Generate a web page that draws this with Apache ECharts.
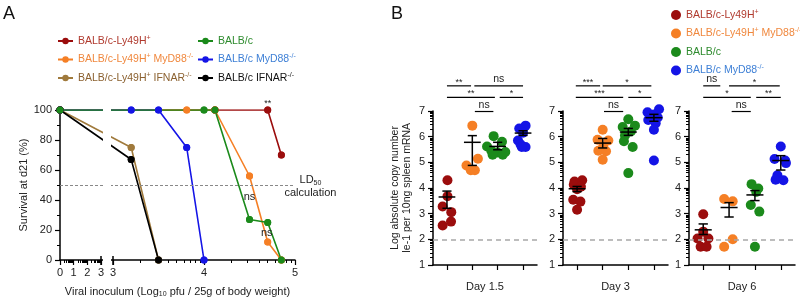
<!DOCTYPE html>
<html>
<head>
<meta charset="utf-8">
<script src="https://cdn.jsdelivr.net/npm/echarts@6/dist/echarts.min.js"></script>
<style>
  html, body { margin: 0; padding: 0; background: #fff; }
  #chart { width: 800px; height: 303px; }
</style>
</head>
<body>
<div id="chart"></div>
<script>
// groups (same order everywhere)
const groupNames = ['BALB/c-Ly49H+', 'BALB/c-Ly49H+ MyD88-/-', 'BALB/c-Ly49H+ IFNAR-/-', 'BALB/c', 'BALB/c MyD88-/-', 'BALB/c IFNAR-/-']
const groupColors = ['#9b0d0d', '#f57f25', '#a07a3c', '#1b8a1b', '#1414e6', '#000000']
const groupTextColors = ['#b03a2e', '#f0883e', '#8b6130', '#2e8b2e', '#3f80d6', '#111111']

// ---- panel A : survival vs dose (log10 pfu) ----
const ly49hDose = [0, 4.12, 4.7, 4.85]
const ly49hSurv = [100, 100, 100, 70]
const ly49hMyd88Dose = [0, 3.81, 4.12, 4.5, 4.7, 4.85]
const ly49hMyd88Surv = [100, 100, 100, 56, 12, 0]
const ly49hIfnarDose = [0, 3.2, 3.5]
const ly49hIfnarSurv = [100, 75, 0]
const balbDose = [0, 4.0, 4.12, 4.5, 4.7, 4.85]
const balbSurv = [100, 100, 100, 27, 25, 0]
const balbMyd88Dose = [0, 3.2, 3.5, 3.81, 4.0]
const balbMyd88Surv = [100, 100, 100, 75, 0]
const balbIfnarDose = [0, 3.2, 3.5]
const balbIfnarSurv = [100, 67, 0]
const ld50 = 50
// [text, dose, survival]
const annotA = [['**', 4.7, 104], ['ns', 4.5, 42], ['ns', 4.69, 18], ['LD{sub|50}\ncalculation', 5.17, 49]]

// ---- panel B : Ie-1 copy number ----
const days = ['Day 1.5', 'Day 3', 'Day 6']
const bGroups = [0, 1, 3, 4]

const d15Ly49h = [4.30, 3.68, 3.28, 3.06, 2.69, 2.54]
const d15Ly49hJit = [0.02, 0.02, -0.17, 0.17, 0.16, -0.17]
const d15Ly49hMyd88 = [6.43, 5.14, 4.88, 4.69, 4.69]
const d15Ly49hMyd88Jit = [0, 0.22, -0.23, -0.06, 0.1]
const d15Balb = [6.02, 5.80, 5.62, 5.45, 5.38, 5.30, 5.30, 5.40]
const d15BalbJit = [-0.16, 0.17, -0.42, -0.25, 0, -0.2, 0.2, 0.3]
const d15BalbMyd88 = [6.43, 6.32, 6.15, 5.85, 5.70, 5.60, 5.60]
const d15BalbMyd88Jit = [0.1, -0.15, 0, -0.2, -0.1, 0.1, -0.05]

const d3Ly49h = [4.30, 4.25, 4.13, 4.05, 3.95, 3.54, 3.47, 3.15]
const d3Ly49hJit = [0.2, -0.1, -0.13, 0.15, 0, -0.15, 0.13, 0]
const d3Ly49hMyd88 = [6.27, 5.88, 5.85, 5.62, 5.45, 5.43, 5.10]
const d3Ly49hMyd88Jit = [0, -0.2, 0.22, 0.02, -0.17, 0.13, 0]
const d3Balb = [6.68, 6.43, 6.38, 6.20, 6.05, 5.82, 5.60, 4.58]
const d3BalbJit = [0, 0.26, -0.22, 0.1, -0.13, -0.17, 0.17, 0]
const d3BalbMyd88 = [7.07, 6.95, 6.86, 6.75, 6.65, 6.52, 6.27, 5.07]
const d3BalbMyd88Jit = [0.2, -0.25, 0, 0.15, -0.22, 0.07, 0, 0]

const d6Ly49h = [2.98, 2.30, 2.03, 2.03, 1.71, 1.71]
const d6Ly49hJit = [0, 0, -0.22, 0.2, -0.1, 0.13]
const d6Ly49hMyd88 = [3.57, 3.48, 2.0, 1.71]
const d6Ly49hMyd88Jit = [-0.19, 0.14, 0.14, -0.19]
const d6Balb = [4.15, 3.98, 3.85, 3.34, 3.08, 1.71]
const d6BalbJit = [-0.13, 0.13, 0.05, -0.16, 0.17, 0]
const d6BalbMyd88 = [5.62, 5.13, 5.07, 4.97, 4.50, 4.32, 4.30]
const d6BalbMyd88Jit = [0, -0.24, 0.17, 0.2, -0.13, -0.2, 0.1]

const meanD15 = [3.65, 5.78, 5.62, 6.14]
const loD15 = [3.21, 4.88, 5.49, 6.05]
const hiD15 = [3.88, 6.04, 5.78, 6.23]
const meanD3 = [3.97, 5.75, 6.18, 6.74]
const loD3 = [3.86, 5.56, 6.05, 6.60]
const hiD3 = [4.06, 5.93, 6.32, 6.87]
const meanD6 = [2.37, 3.24, 3.73, 5.07]
const loD6 = [2.19, 2.87, 3.51, 4.70]
const hiD6 = [2.60, 3.43, 3.90, 5.26]
const detectLimit = 2

// [from group, to group, level, label]
const sigD15 = [[0, 0.95, 7.98, '**'], [1.08, 3, 7.98, 'ns'], [0, 1.89, 7.53, '**'], [2.08, 3, 7.53, '*'], [1.1, 1.83, 6.98, 'ns']]
const sigD3 = [[-0.05, 0.9, 7.98, '***'], [1.0, 2.9, 7.98, '*'], [-0.05, 1.8, 7.53, '***'], [2.0, 2.9, 7.53, '*'], [1.05, 1.8, 6.98, 'ns']]
const sigD6 = [[0, 0.66, 7.98, 'ns'], [1.0, 2.96, 7.98, '*'], [0, 1.84, 7.53, '*'], [2.05, 3, 7.53, '**'], [1.1, 1.84, 6.98, 'ns']]

const ff = "'Liberation Sans', Arial, sans-serif"

// broken x axis of panel A: 0-3 squeezed, 3-5 full width
const LOW_SCALE = 41 / 3 / 91
const BREAK_START = 3 * LOW_SCALE
const BREAK_END = 53 / 91
const X_MAX = BREAK_END + 2
const toAxis = (x) => (x <= 3 ? x * LOW_SCALE : BREAK_END + (x - 3))
const fromAxis = (v) => (v < BREAK_START + 0.01 ? Math.round(v / LOW_SCALE) : Math.round(v - BREAK_END + 3))

const majorX = [0, 1, 2, 3].map(toAxis).concat([BREAK_END, toAxis(4), toAxis(5)])
const minorX = []
for (let n = 0; n < 5; n++) {
  for (let k = 2; k < 10; k++) minorX.push(toAxis(n + Math.log10(k)))
}
const minorY = []
for (let n = 1; n < 7; n++) {
  for (let k = 2; k < 10; k++) minorY.push(n + Math.log10(k))
}

const supName = (name) => name.replace('+', '{sup|+}').replace('-/-', '{sup|-/-}')
const richText = {
  sup: { fontSize: 7, padding: [0, 0, 6, 0] },
  sub: { fontSize: 7, padding: [6, 0, 0, 0] }
}

const chart = echarts.init(document.getElementById('chart'))

const doses = [ly49hDose, ly49hMyd88Dose, ly49hIfnarDose, balbDose, balbMyd88Dose, balbIfnarDose]
const survs = [ly49hSurv, ly49hMyd88Surv, ly49hIfnarSurv, balbSurv, balbMyd88Surv, balbIfnarSurv]
const drawOrder = [0, 1, 2, 4, 5, 3] // green line on top

const series = []
drawOrder.forEach((g) => {
  const s = {
    type: 'line',
    name: groupNames[g],
    xAxisIndex: 0,
    yAxisIndex: 0,
    data: doses[g].map((x, i) => [toAxis(x), survs[g][i]]),
    symbol: 'circle',
    symbolSize: 7,
    lineStyle: { color: groupColors[g], width: 1.6 },
    itemStyle: { color: groupColors[g] },
    animation: false
  }
  if (g === 3) {
    s.markLine = {
      silent: true,
      symbol: 'none',
      data: [{ yAxis: ld50 }],
      lineStyle: { color: '#888', type: [3, 2], width: 1 },
      label: { show: false }
    }
  }
  series.push(s)
})
// dots above every line
drawOrder.forEach((g) => {
  series.push({
    type: 'scatter',
    name: groupNames[g],
    xAxisIndex: 0,
    yAxisIndex: 0,
    data: doses[g].map((x, i) => [toAxis(x), survs[g][i]]),
    symbolSize: 7,
    itemStyle: { color: groupColors[g], opacity: 1 },
    animation: false
  })
})
// axis break
series.push({
  type: 'custom',
  xAxisIndex: 0,
  yAxisIndex: 0,
  z: 10,
  silent: true,
  clip: false,
  data: [[0, 0]],
  renderItem: (params, api) => {
    const a = api.coord([BREAK_START, 0])
    const b = api.coord([BREAK_END, 0])
    const top = api.coord([0, 105])[1]
    return {
      type: 'group',
      children: [
        { type: 'rect', shape: { x: a[0] + 2, y: top, width: b[0] - a[0] - 4, height: a[1] - top + 3 }, style: { fill: '#fff' } },
        { type: 'line', shape: { x1: a[0], y1: a[1] - 4, x2: a[0], y2: a[1] + 5 }, style: { stroke: '#000', lineWidth: 1.5 } },
        { type: 'line', shape: { x1: b[0], y1: b[1] - 4, x2: b[0], y2: b[1] + 5 }, style: { stroke: '#000', lineWidth: 1.5 } }
      ]
    }
  }
})
// panel A text notes
series.push({
  type: 'custom',
  xAxisIndex: 0,
  yAxisIndex: 0,
  z: 11,
  silent: true,
  clip: false,
  data: annotA.map((a) => [toAxis(a[1]), a[2]]),
  renderItem: (params, api) => {
    const p = api.coord([api.value(0), api.value(1)])
    const txt = annotA[params.dataIndex][0]
    return {
      type: 'text',
      style: {
        text: txt,
        x: p[0],
        y: p[1],
        align: 'center',
        verticalAlign: 'middle',
        fontFamily: ff,
        fontSize: txt === '**' ? 9 : 11,
        lineHeight: 13,
        fill: '#222',
        rich: richText
      }
    }
  }
})

// ---- panel B series ----
const dayVals = [
  [d15Ly49h, d15Ly49hMyd88, d15Balb, d15BalbMyd88],
  [d3Ly49h, d3Ly49hMyd88, d3Balb, d3BalbMyd88],
  [d6Ly49h, d6Ly49hMyd88, d6Balb, d6BalbMyd88]
]
const dayJit = [
  [d15Ly49hJit, d15Ly49hMyd88Jit, d15BalbJit, d15BalbMyd88Jit],
  [d3Ly49hJit, d3Ly49hMyd88Jit, d3BalbJit, d3BalbMyd88Jit],
  [d6Ly49hJit, d6Ly49hMyd88Jit, d6BalbJit, d6BalbMyd88Jit]
]
const dayMean = [meanD15, meanD3, meanD6]
const dayLo = [loD15, loD3, loD6]
const dayHi = [hiD15, hiD3, hiD6]
const daySig = [sigD15, sigD3, sigD6]

days.forEach((day, d) => {
  bGroups.forEach((g, j) => {
    const s = {
      type: 'scatter',
      name: groupNames[g],
      xAxisIndex: 2 + d,
      yAxisIndex: 1 + d,
      data: dayVals[d][j].map((v, i) => [j + dayJit[d][j][i], v]),
      symbolSize: 10,
      clip: false,
      itemStyle: { color: groupColors[g], opacity: 1 },
      animation: false
    }
    if (j === 0) {
      s.markLine = {
        silent: true,
        symbol: 'none',
        data: [{ yAxis: detectLimit }],
        lineStyle: { color: '#a8a8a8', type: [5, 4], width: 1.5 },
        label: { show: false }
      }
    }
    series.push(s)
  })
  // mean +- sem
  series.push({
    type: 'custom',
    xAxisIndex: 2 + d,
    yAxisIndex: 1 + d,
    z: 5,
    silent: true,
    clip: false,
    data: dayMean[d].map((m, j) => [j, m, dayLo[d][j], dayHi[d][j]]),
    renderItem: (params, api) => {
      const c = api.value(0)
      const m = api.value(1)
      const lo = api.value(2)
      const hi = api.value(3)
      const style = { stroke: '#000', lineWidth: 1.5 }
      const seg = (x1, y1, x2, y2) => {
        const a = api.coord([x1, y1])
        const b = api.coord([x2, y2])
        return { type: 'line', shape: { x1: a[0], y1: a[1], x2: b[0], y2: b[1] }, style }
      }
      return {
        type: 'group',
        children: [
          seg(c - 0.33, m, c + 0.33, m),
          seg(c, lo, c, hi),
          seg(c - 0.18, lo, c + 0.18, lo),
          seg(c - 0.18, hi, c + 0.18, hi)
        ]
      }
    }
  })
  // significance bars
  series.push({
    type: 'custom',
    xAxisIndex: 2 + d,
    yAxisIndex: 1 + d,
    z: 5,
    silent: true,
    clip: false,
    data: daySig[d].map((s) => [s[0], s[2]]),
    renderItem: (params, api) => {
      const s = daySig[d][params.dataIndex]
      const a = api.coord([s[0], s[2]])
      const b = api.coord([s[1], s[2]])
      const star = s[3].indexOf('*') >= 0
      return {
        type: 'group',
        children: [
          { type: 'line', shape: { x1: a[0], y1: a[1], x2: b[0], y2: b[1] }, style: { stroke: '#000', lineWidth: 1.2 } },
          {
            type: 'text',
            style: {
              text: s[3],
              x: (a[0] + b[0]) / 2,
              y: a[1] + (star ? 1 : -1),
              align: 'center',
              verticalAlign: 'bottom',
              fontFamily: ff,
              fontSize: star ? 9 : 10.5,
              fill: '#222'
            }
          }
        ]
      }
    }
  })
})

const bLeft = [433, 563, 689]
const bWidth = [104, 105, 106]

const xAxes = [
  {
    gridIndex: 0,
    type: 'value',
    min: 0,
    max: X_MAX,
    position: 'bottom',
    axisLine: { lineStyle: { color: '#000', width: 1.5 } },
    axisTick: { customValues: majorX, length: 5, lineStyle: { color: '#000', width: 1.2 } },
    axisLabel: { customValues: majorX, formatter: (v) => String(fromAxis(v)), fontFamily: ff, fontSize: 11, color: '#222', margin: 7 },
    splitLine: { show: false },
    name: 'Viral inoculum (Log{sub|10} pfu / 25g of body weight)',
    nameLocation: 'middle',
    nameGap: 25,
    nameTextStyle: { fontFamily: ff, fontSize: 11, color: '#222', rich: richText }
  },
  {
    gridIndex: 0,
    type: 'value',
    min: 0,
    max: X_MAX,
    position: 'bottom',
    axisLine: { show: false },
    axisTick: { customValues: minorX, length: 3, lineStyle: { color: '#000', width: 1 } },
    axisLabel: { show: false },
    splitLine: { show: false }
  }
]
days.forEach((day, d) => {
  xAxes.push({
    gridIndex: d + 1,
    type: 'value',
    min: -0.55,
    max: 3.55,
    axisLine: { lineStyle: { color: '#000', width: 1.5 } },
    axisTick: { customValues: [0, 1, 2, 3], length: 5, lineStyle: { color: '#000', width: 1.2 } },
    axisLabel: { show: false },
    splitLine: { show: false },
    name: day,
    nameLocation: 'middle',
    nameGap: 16,
    nameTextStyle: { fontFamily: ff, fontSize: 11, color: '#222' }
  })
})

const yAxes = [
  {
    gridIndex: 0,
    type: 'value',
    min: 0,
    max: 100,
    interval: 20,
    axisLine: { show: true, onZero: false, lineStyle: { color: '#000', width: 1.5 } },
    axisTick: { show: true, length: 5, lineStyle: { color: '#000', width: 1.2 } },
    minorTick: { show: true, splitNumber: 2, length: 3, lineStyle: { color: '#000', width: 1 } },
    axisLabel: { fontFamily: ff, fontSize: 11, color: '#222', margin: 8 },
    splitLine: { show: false },
    name: 'Survival at d21 (%)',
    nameLocation: 'middle',
    nameGap: 25,
    nameTextStyle: { fontFamily: ff, fontSize: 11, color: '#222' }
  }
]
days.forEach((day, d) => {
  yAxes.push({
    gridIndex: d + 1,
    type: 'value',
    min: 1,
    max: 7,
    interval: 1,
    axisLine: { show: true, onZero: false, lineStyle: { color: '#000', width: 1.5 } },
    axisTick: { show: true, length: 5, lineStyle: { color: '#000', width: 1.2 } },
    axisLabel: { fontFamily: ff, fontSize: 11, color: '#222', margin: 8 },
    splitLine: { show: false },
    name: d === 0 ? 'Log absolute copy number\nIe-1 per 10ng spleen mRNA' : '',
    nameLocation: 'middle',
    nameGap: 20,
    nameTextStyle: { fontFamily: ff, fontSize: 10.5, lineHeight: 12, color: '#222' }
  })
})
days.forEach((day, d) => {
  yAxes.push({
    gridIndex: d + 1,
    type: 'value',
    min: 1,
    max: 7,
    position: 'left',
    axisLine: { show: false, onZero: false },
    axisTick: { show: true, customValues: minorY, length: 3, lineStyle: { color: '#000', width: 1 } },
    axisLabel: { show: false },
    splitLine: { show: false }
  })
})

const legendText = (items) => items.map((g) => ({ name: groupNames[g], textStyle: { color: groupTextColors[g] } }))
const legendFont = { fontFamily: ff, fontSize: 10.5, lineHeight: 14, rich: richText }

const option = {
  animation: false,
  backgroundColor: '#fff',
  textStyle: { fontFamily: ff },
  title: [
    { text: 'A', left: 3, top: 5, padding: 0, textStyle: { fontFamily: ff, fontSize: 18, fontWeight: 'normal', color: '#111' } },
    { text: 'B', left: 391, top: 5, padding: 0, textStyle: { fontFamily: ff, fontSize: 18, fontWeight: 'normal', color: '#111' } }
  ],
  legend: [
    {
      orient: 'vertical', left: 57, top: 34, padding: 0, itemGap: 4.5, itemWidth: 15, itemHeight: 8,
      data: legendText([0, 1, 2]), formatter: supName, textStyle: legendFont
    },
    {
      orient: 'vertical', left: 197, top: 34, padding: 0, itemGap: 4.5, itemWidth: 15, itemHeight: 8,
      data: legendText([3, 4, 5]), formatter: supName, textStyle: legendFont
    },
    {
      orient: 'vertical', left: 671, top: 8, padding: 0, itemGap: 4.5, itemWidth: 10, itemHeight: 10, icon: 'circle',
      data: legendText([0, 1, 3, 4]), formatter: supName, textStyle: legendFont
    }
  ],
  grid: [{ left: 60, top: 110, width: 235, height: 155 }].concat(
    bLeft.map((l, i) => ({ left: l, top: 111, width: bWidth[i], height: 154 }))
  ),
  xAxis: xAxes,
  yAxis: yAxes,
  series
}

chart.setOption(option)
</script>
</body>
</html>
